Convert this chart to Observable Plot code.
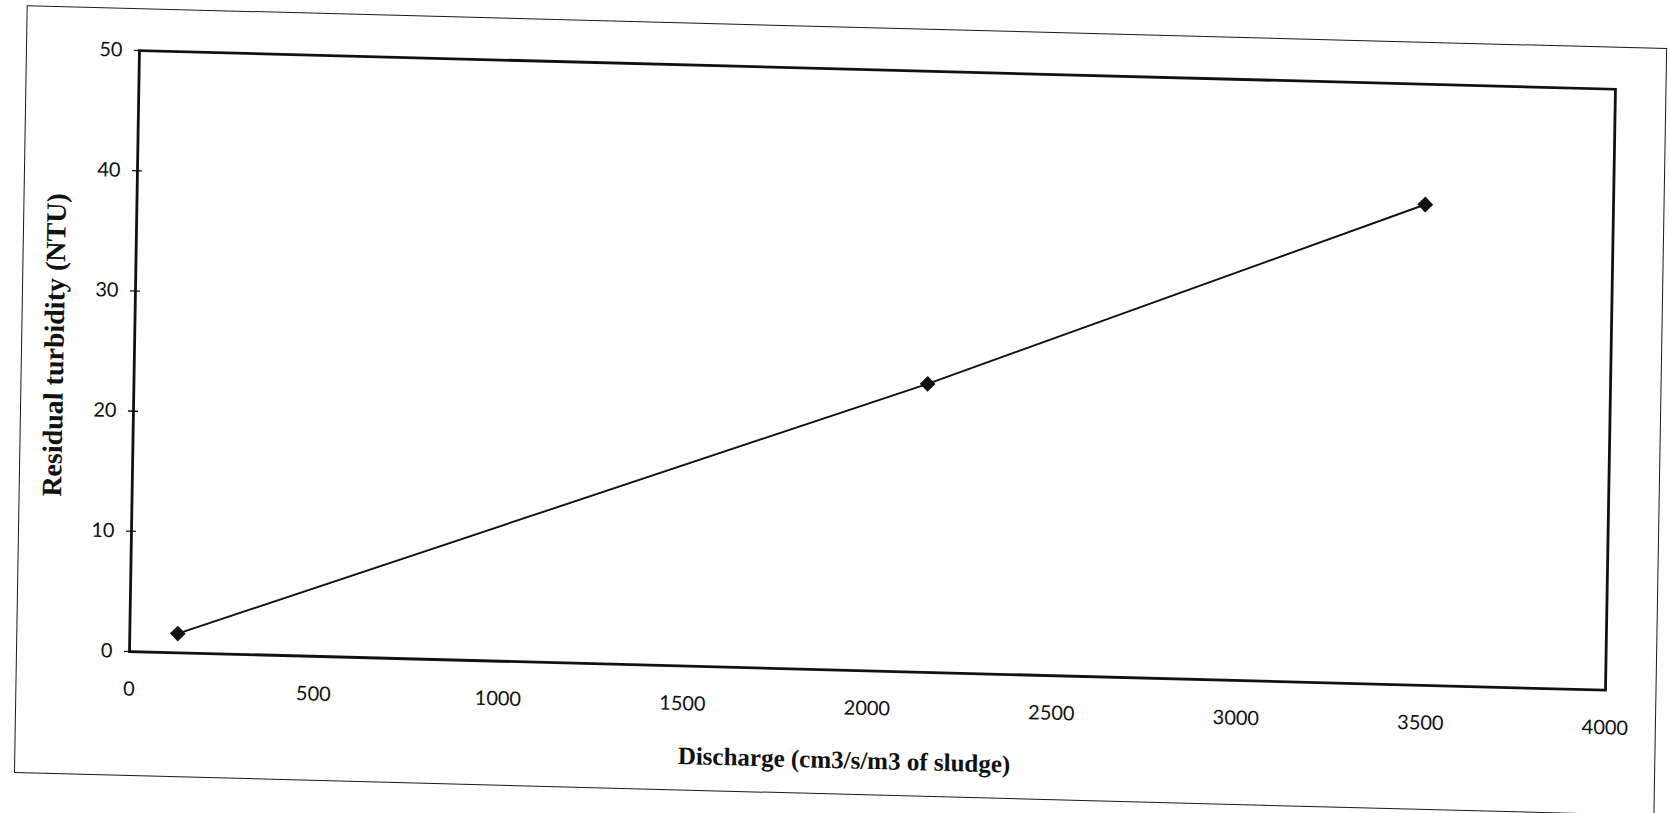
<!DOCTYPE html>
<html><head><meta charset="utf-8">
<script src="https://cdn.jsdelivr.net/npm/d3@7"></script>
<script src="https://cdn.jsdelivr.net/npm/@observablehq/plot@0.6"></script>
<style>
html,body{margin:0;padding:0;background:#fff;width:1669px;height:813px;overflow:hidden;}
#chart svg{position:absolute;left:17px;top:9px;outline:1.6px solid #1a1a1a;transform-origin:112px 642px;transform:matrix(0.99966,0.02618,-0.01658,0.99986,0,0);max-width:none;background:#fff;}
</style></head><body><div id="chart"></div>
<script>
const discharge = [130, 2150, 3490];
const turbidity = [1.6, 24, 40];
const xTicks = [0, 500, 1000, 1500, 2000, 2500, 3000, 3500, 4000];
const yTicks = [0, 10, 20, 30, 40, 50];
const xTitle = "Discharge (cm3/s/m3 of sludge)";
const yTitle = "Residual turbidity (NTU)";

const data = discharge.map((x, i) => ({x, y: turbidity[i]}));
const tickFont = "Lato, 'Open Sans', sans-serif";
const titleFont = "'Liberation Serif', 'DejaVu Serif', serif";

const chart = Plot.plot({
  width: 1639, height: 766,
  marginLeft: 112, marginRight: 50.5, marginTop: 41, marginBottom: 124,
  style: {background: "#fff", color: "#111", fontFamily: tickFont, fontSize: "20px", overflow: "visible"},
  x: {domain: [0, 4000]},
  y: {domain: [0, 50]},
  marks: [
    Plot.frame({stroke: "#111", strokeWidth: 2.8}),
    Plot.axisY(yTicks, {tickSize: 10, dx: 5, fill: "none", stroke: "#111", strokeWidth: 1.3, label: null}),
    Plot.axisY(yTicks, {tickSize: 0, tickPadding: 17, tickFormat: "d", fontSize: 20, fill: "#111", label: null}),
    Plot.axisX(xTicks, {tickSize: 0, tickPadding: 30, tickFormat: "d", fontSize: 20, fill: "#111", label: null}),
    Plot.line(data, {x: "x", y: "y", stroke: "#111", strokeWidth: 1.9}),
    Plot.dot(data, {x: "x", y: "y", symbol: "square", r: 6.3, rotate: 45, fill: "#111", stroke: null}),
    Plot.text([xTitle], {frameAnchor: "bottom", textAnchor: "middle", dx: -22, dy: 90, lineAnchor: "middle",
      fontFamily: titleFont, fontWeight: "bold", fontSize: 25, fill: "#111"}),
    Plot.text([yTitle], {frameAnchor: "left", textAnchor: "middle", rotate: -90, dx: -80, dy: -4, lineAnchor: "middle",
      fontFamily: titleFont, fontWeight: "bold", fontSize: 28, fill: "#111"})
  ]
});
document.getElementById("chart").appendChild(chart);
</script>
</body></html>
